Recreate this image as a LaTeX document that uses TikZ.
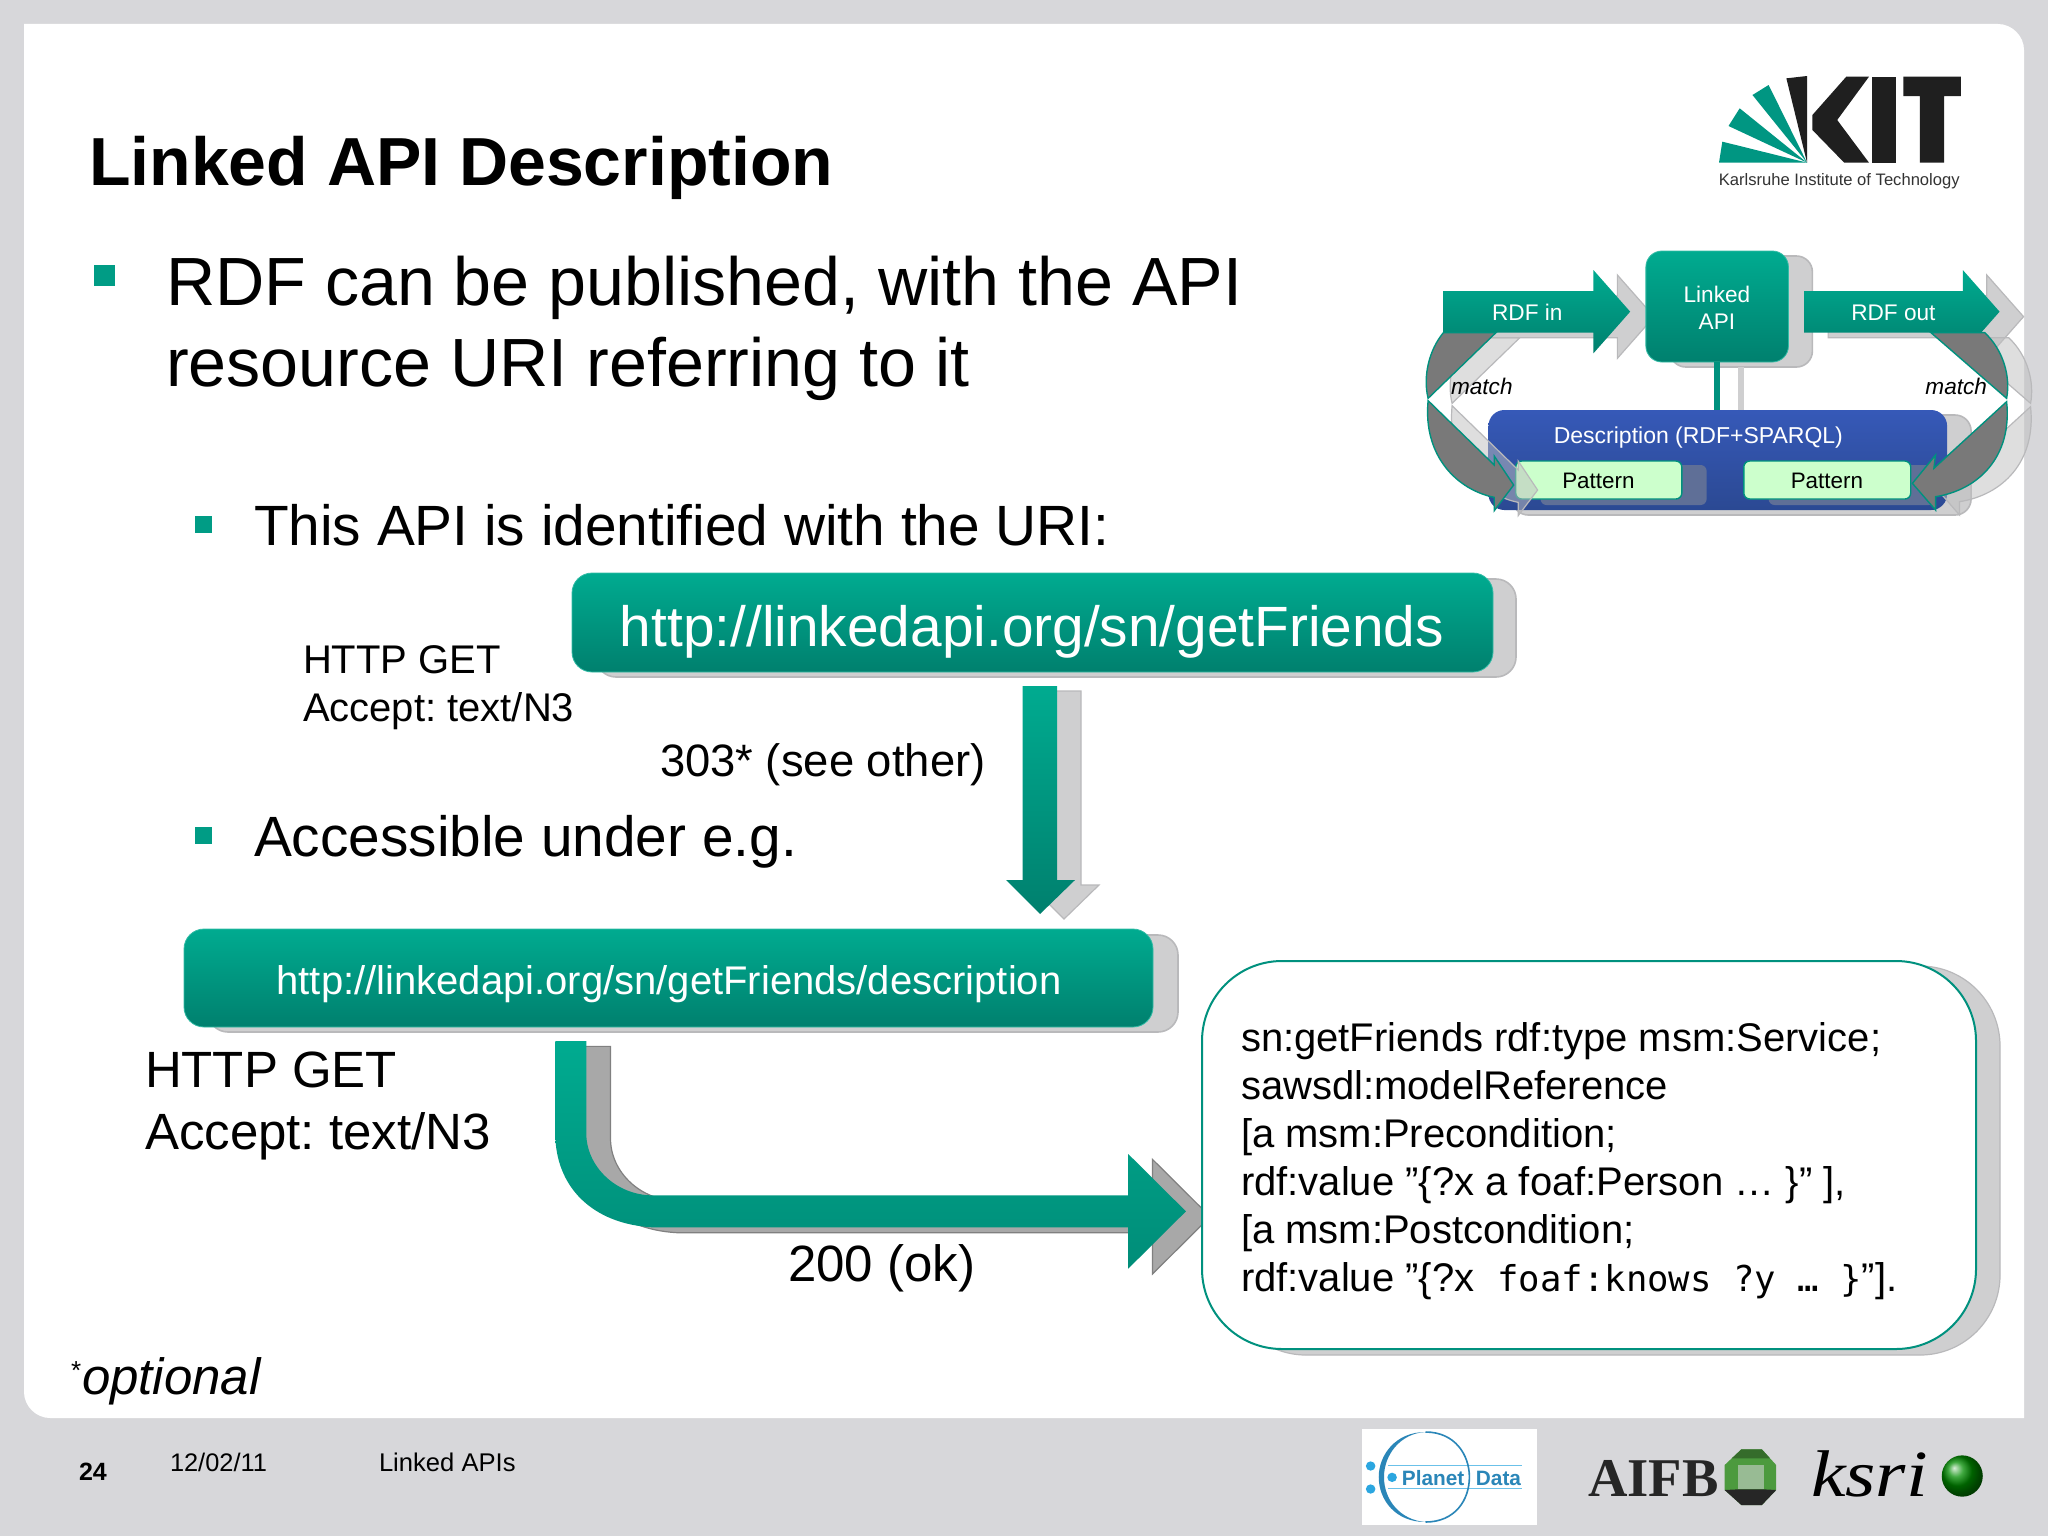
\documentclass[tikz,border=0pt]{standalone}
\usepackage{fontspec}
\setmainfont{Liberation Sans}
\newfontfamily\monof{DejaVu Sans Mono}
\newfontfamily\serifb{Liberation Serif}
\usetikzlibrary{fit,shadings}
\AtBeginDocument{\frenchspacing}
\definecolor{tealT}{HTML}{00AB90}
\definecolor{tealB}{HTML}{00806E}
\definecolor{pagebg}{HTML}{D7D7DA}
\definecolor{shadowfill}{HTML}{CFCFD0}
\definecolor{shadowline}{HTML}{B9B9BB}
\definecolor{darkshadow}{HTML}{A8A8A8}
\definecolor{keen}{HTML}{00917E}
\definecolor{bulletteal}{HTML}{009C85}
\definecolor{blueT}{HTML}{3659B8}
\definecolor{blueB}{HTML}{2B4993}
\definecolor{patfill}{HTML}{CCFFCC}
\definecolor{kitgreen}{HTML}{009682}
\definecolor{pdblue}{HTML}{2A86B8}
\definecolor{pddot}{HTML}{2BA6E0}
\definecolor{octgreen}{HTML}{4C9A3E}
\newcommand\fs[1]{\fontsize{#1}{#1}\selectfont}
\tikzset{
  txt/.style={inner sep=0pt,outer sep=0pt,anchor=base west,text=black},
  shadowbox/.style={inner sep=0pt,rounded corners=10pt,fill=shadowfill,draw=shadowline,line width=.8pt},
  tealbox/.style={inner sep=0pt,rounded corners=10pt,top color=tealT,bottom color=tealB,draw=tealT!80!white,line width=.4pt},
  blockarrow/.style={top color=tealT,bottom color=tealB,draw=none},
  bentfill/.style={top color=tealT,bottom color=tealB!70!tealT,draw=none},
  lightshadow/.style={fill=shadowfill,draw=shadowline,line width=.6pt},
  graycurve/.style={fill=gray!95!black,draw=keen,line width=.7pt},
  smalltxt/.style={inner sep=0pt,outer sep=0pt,font=\fs{11.3},align=center},
  whitebase/.style={inner sep=0pt,outer sep=0pt,anchor=base,text=white},
  patbox/.style={inner sep=0pt,rounded corners=3pt,fill=patfill,draw=keen,line width=.7pt},
}
\newcommand\rdfin{(105,753) -- (468,753) -- (468,690) -- (557,815) -- (468,940) -- (468,878) -- (105,878) -- cycle}
\newcommand\rdfout{(978,753) -- (1362,753) -- (1362,690) -- (1451,815) -- (1362,940) -- (1362,878) -- (978,878) -- cycle}
\newcommand\matchL{(105,878) -- (232,878) -- (68,1075) .. controls (55,1010) and (70,930) .. (105,878) -- cycle
  (68,1082) -- (228,1275) -- (228,1248) -- (275,1335) -- (228,1412) -- (228,1372) .. controls (140,1350) and (55,1250) .. (68,1082) -- cycle}
\newcommand\matchR{(1285,878) -- (1415,878) .. controls (1460,930) and (1478,1010) .. (1468,1075) -- cycle
  (1468,1085) -- (1292,1285) -- (1296,1245) -- (1240,1330) -- (1296,1410) -- (1296,1370) .. controls (1400,1350) and (1482,1250) .. (1468,1085) -- cycle}
\newcommand\bentarrow{(114,123) -- (178,123) -- (178,400) .. controls (178,500) and (240,586) .. (315,586) -- (1296,586) -- (1296,462) -- (1415,634) -- (1296,806) -- (1296,682) -- (315,682) .. controls (190,672) and (114,560) .. (114,400) -- cycle}
\newcommand\downarrowshape{(1022.5,686) -- (1057,686) -- (1057,880) -- (1075,880) -- (1040,914) -- (1006,880) -- (1022.5,880) -- cycle}
\begin{document}
\begin{tikzpicture}[x=0.5pt,y=-0.5pt]
\useasboundingbox (0,0) rectangle (2048,1536);
\fill[pagebg] (0,0) rectangle (2048,1536);
\fill[white] (24,24) -- (1998,24) .. controls (2012,24) and (2024,36) .. (2024,50) -- (2024,1418) -- (50,1418) .. controls (36,1418) and (24,1406) .. (24,1392) -- cycle;

% title and bullets
\node[txt,font=\bfseries\fs{34}] (title) at (89,185.5) {Linked API Description};
\fill[bulletteal] (94,265) rectangle (115,286);
\node[txt,font=\fs{34.1}] (l1a) at (166,305) {RDF can be published, with the API};
\node[txt,font=\fs{34.1}] (l1b) at (166,386) {resource URI referring to it};
\fill[bulletteal] (195,516) rectangle (212,533);
\node[txt,font=\fs{28.4}] (l2a) at (254,545) {This API is identified with the URI:};
\fill[bulletteal] (195,827) rectangle (212,844);
\node[txt,font=\fs{28.4}] (l2b) at (254,856) {Accessible under e.g.};

% big URL box
\node[shadowbox,fit={(596,579)(1516,677)}] (bigS) {};
\node[tealbox,fit={(572,573)(1493,672)}] (bigurl) {};
\node[whitebase,font=\fs{28.4}] (bigtxt) at (1032,646) {http://linkedapi.org/sn/getFriends};

\node[txt,font=\fs{20}] (get1) at (303,673) {HTTP GET};
\node[txt,font=\fs{20}] (acc1) at (303,721) {Accept: text/N3};
\node[txt,font=\fs{22.7}] (see) at (660,776) {303* (see other)};

% down arrow
\begin{scope}[shift={(24,5)}]
\draw[lightshadow] \downarrowshape;
\end{scope}
\path[blockarrow] \downarrowshape;

% small URL box
\node[shadowbox,fit={(208,935)(1178,1032)}] (smallS) {};
\node[tealbox,fit={(184,929)(1153,1027)}] (smallurl) {};
\node[whitebase,font=\fs{20}] (smalltxt) at (669,994) {http://linkedapi.org/sn/getFriends/description};

\node[txt,font=\fs{25.5}] (get2) at (145,1087) {HTTP GET};
\node[txt,font=\fs{25.5}] (acc2) at (145,1149) {Accept: text/N3};

% bent arrow
\begin{scope}[shift={(500,1000)},x=0.24237pt,y=-0.16667pt]
\begin{scope}[shift={(50,16)}]
\draw[fill=darkshadow,draw=gray,line width=.6pt] \bentarrow;
\end{scope}
\path[bentfill] \bentarrow;
\end{scope}
\node[txt,font=\fs{25.5}] (ok) at (788,1281) {200 (ok)};

% description box
\node[inner sep=0pt,rounded corners=40pt,fill=shadowfill,draw=shadowline,line width=.6pt,fit={(1226,966)(2000,1355)}] (codeS) {};
\node[inner sep=0pt,rounded corners=40pt,fill=white,draw=keen,line width=1pt,fit={(1202,961)(1976,1349)}] (code) {};
\node[inner sep=0pt,outer sep=0pt,anchor=north west,align=left,font=\fontsize{20}{24}\selectfont] (codetxt) at (1241,1022) {sn:getFriends rdf:type msm:Service;\\
sawsdl:modelReference\\
{}[a msm:Precondition;\\
rdf:value ”\{?x a foaf:Person … \}” {]},\\
{}[a msm:Postcondition;\\
rdf:value ”\{?x\hspace{11.5pt}{\monof\fontsize{17.8}{24}\selectfont foaf:knows ?y … \}}”{]}.};

% footnote and footer
\node[txt,font=\fs{13}] (star) at (71,1379) {*};
\node[txt,font=\itshape\fs{25.5}] (opt) at (82,1394) {optional};
\node[txt,font=\bfseries\fs{12.5}] (pg) at (79,1480) {24};
\node[txt,font=\fs{12.7}] (date) at (170,1471) {12/02/11};
\node[txt,font=\fs{12.8}] (foot) at (379,1471) {Linked APIs};

% KIT logo and small diagram
\begin{scope}[shift={(1400,40)},x=0.20661pt,y=-0.16667pt]
\fill[kitgreen] (772,368) -- (780,305) -- (985,368) -- cycle;
\fill[kitgreen] (795,258) -- (822,205) -- (985,368) -- cycle;
\fill[kitgreen] (853,165) -- (892,135) -- (985,368) -- cycle;
\fill[black!88] (935,115) -- (985,108) -- (985,368) -- cycle;
\fill[black!88] (1080,110) -- (1135,110) -- (1058,240) -- (1135,368) -- (1075,368) -- (998,270) -- (998,225) -- cycle;
\fill[black!88] (1143,110) rectangle (1200,368);
\fill[black!88] (1218,110) -- (1357,110) -- (1357,168) -- (1317,168) -- (1317,368) -- (1258,368) -- (1258,168) -- (1218,168) -- cycle;
\node[inner sep=0pt,font=\fs{8.3},text=black!80] (kit) at (1063,423) {Karlsruhe Institute of Technology};

% shadows
\begin{scope}[shift={(58,15)}]
\draw[lightshadow] \rdfin;
\draw[lightshadow] \rdfout;
\end{scope}
\node[shadowbox,rounded corners=8pt,fit={(653,648)(998,981)}] (apiS) {};
\draw[shadowfill,line width=3pt] (826,981) -- (826,1125);
\node[shadowbox,rounded corners=8pt,fit={(272,1125)(1382,1425)}] (descS) {};

\path[blockarrow] \rdfin;
\path[blockarrow] \rdfout;
\node[tealbox,rounded corners=8pt,fit={(595,633)(940,966)}] (api) {};
\node[smalltxt,text=white,font=\fontsize{11.3}{13.4}\selectfont] (apitxt) at (767,803) {Linked\\API};
\node[inner sep=0pt,rounded corners=8pt,top color=blueT,bottom color=blueB,draw=none,fit={(214,1110)(1324,1410)}] (desc) {};
\draw[keen,line width=3pt] (api.south) -- (api.south |- desc.north);

\fill[rounded corners=3pt,fill=gray!40!blueB!90!white] (340,1275) rectangle (742,1395);
\fill[rounded corners=3pt,fill=gray!40!blueB!90!white] (892,1275) rectangle (1294,1395);
\node[patbox,fit={(280,1263)(682,1377)}] (pat1) {};
\node[patbox,fit={(832,1263)(1236,1377)}] (pat2) {};
\node[smalltxt,font=\fs{11.2}] (pat1txt) at (480,1323) {Pattern};
\node[smalltxt,font=\fs{11.2}] (pat2txt) at (1033,1323) {Pattern};
\node[smalltxt,text=white,font=\fs{11.5}] (destxt) at (722,1192) {Description (RDF+SPARQL)};

% curved match arrows
\begin{scope}[shift={(58,15)}]
\path[fill=gray!50,fill opacity=.5,draw=shadowline,line width=.6pt] \matchL;
\path[fill=gray!50,fill opacity=.5,draw=shadowline,line width=.6pt] \matchR;
\end{scope}
\path[graycurve] \matchL;
\path[graycurve] \matchR;
\node[smalltxt,text=white] (in) at (308,818) {RDF in};
\node[smalltxt,text=white] (out) at (1194,818) {RDF out};
\node[smalltxt,font=\itshape\fs{11.3}] (m1) at (198,1040) {match};
\node[smalltxt,font=\itshape\fs{11.3}] (m2) at (1346,1040) {match};
\end{scope}

% bottom logos
\begin{scope}[shift={(1300,1400)},x=0.23855pt,y=-0.16667pt]
\fill[white] (130,87) rectangle (497,375);
\draw[pddot!70,line width=.5pt] (185,195) -- (465,195) (185,265) -- (465,265);
\draw[pdblue,line width=.8pt] (263,96) .. controls (325,96) and (355,165) .. (355,231) .. controls (355,300) and (325,366) .. (263,366);
\fill[pdblue] (263,96) .. controls (200,96) and (165,165) .. (165,231) .. controls (165,300) and (200,366) .. (263,366) .. controls (210,360) and (176,300) .. (176,231) .. controls (176,165) and (210,100) .. (263,96) -- cycle;
\fill[pddot] (148,198) ellipse (10 and 14);
\fill[pddot] (148,267) ellipse (10 and 14);
\fill[pddot] (193,232) ellipse (10 and 14);
\node[inner sep=0pt,font=\bfseries\fs{10.4},text=pdblue] (planet) at (279,234) {Planet};
\node[inner sep=0pt,font=\bfseries\fs{10.4},text=pdblue] (data) at (416,234) {Data};
\node[inner sep=0pt,anchor=base west,font=\serifb\bfseries\fs{27.3},text=black!85] (aifb) at (603,290) {AIFB};
\fill[octgreen] (925,148) -- (968,148) -- (998,195) -- (998,270) -- (968,315) -- (925,315) -- (890,270) -- (890,195) -- cycle;
\fill[black!85] (918,268) -- (972,268) -- (998,270) -- (968,315) -- (925,315) -- (890,270) -- cycle;
\fill[octgreen!70!black] (925,148) -- (968,148) -- (985,175) -- (905,175) -- cycle;
\fill[pagebg!55!octgreen] (918,195) rectangle (972,268);
\node[inner sep=0pt,anchor=base west,font=\serifb\itshape\fs{33},xscale=1.18,text=black] (ksri) at (1070,290) {ksri};
\shade[ball color=green!55!black] (1388,228) ellipse (43 and 62);
\end{scope}
\end{tikzpicture}
\end{document}
